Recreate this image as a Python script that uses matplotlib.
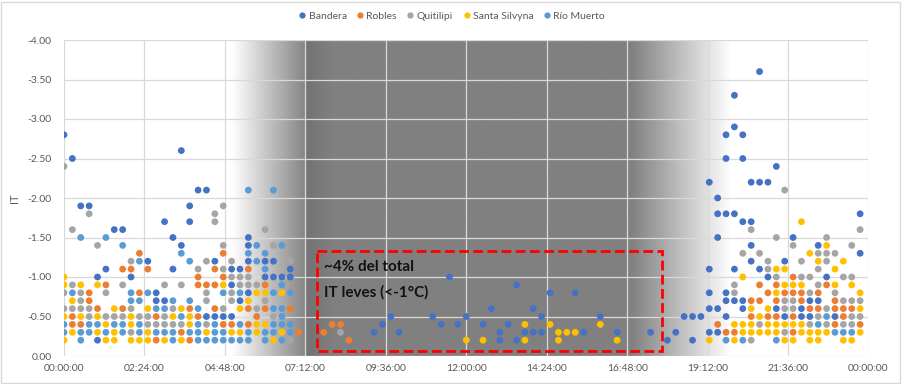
import numpy as np
import matplotlib
matplotlib.use("Agg")
import matplotlib.pyplot as plt
from matplotlib.lines import Line2D
from matplotlib.patches import Rectangle

plt.rcParams['font.family'] = ['Lato', 'DejaVu Sans']

# ---------------- data ----------------
series_names = ["Bandera", "Robles", "Quitilipi", "Santa Silvyna", "Río Muerto"]
series_colors = ["#4472C4", "#ED7D31", "#A5A5A5", "#FFC000", "#5B9BD5"]

bandera_times = ["00:00","00:15","00:30","00:45","01:00","01:15","01:30","01:45","02:00","02:30","02:45","03:00","03:15","03:30","03:45","04:00","04:15","04:30","04:45","05:00","05:15","05:30","06:00","06:15","06:30","06:45",
                 "09:15","09:30","09:45","10:00","11:00","11:15","11:30","11:45","12:00","12:30","12:45","13:00","13:15","13:30","13:45","14:00","14:15","14:30","15:15","15:30","16:00","16:30","17:30","18:00","18:15",
                 "18:30","18:45","19:00","19:15","19:30","19:45","20:00","20:15","20:30","20:45","21:00","21:15","21:30","21:45","22:00","22:15","22:30","22:45","23:00","23:45"]
bandera_it = [[-2.8],[-2.5],[-1.9],[-1.9],[-1.0,-0.2],[-1.1],[-1.6],[-1.6],[-1.0],[-1.2],[-0.8,-0.7],[-1.7,-0.7],[-1.5,-1.1],[-2.6,-1.4],[-1.9,-1.7],[-2.1],[-2.1,-0.5],[-1.2,-0.5],[-0.5],[-1.1,-0.9,-0.5],[-1.1,-0.7],[-1.5,-1.4,-1.2,-0.8],[-1.2,-1.0],[-1.2,-1.0],[-1.0],[-1.1,-1.0],
              [-0.3],[-0.4],[-0.5],[-0.3],[-0.5],[-0.4],[-1.0],[-0.4],[-0.5],[-0.4],[-0.6],[-0.3,-0.2],[-0.4],[-0.9,-0.2],[-0.3],[-0.6,-0.3],[-0.5,-0.3],[-0.8],[-0.8],[-0.3],[-0.5],[-0.3],[-0.3],[-0.2],[-0.3],
              [-0.5],[-0.5,-0.2],[-0.5],[-2.2,-1.1,-0.8,-0.6,-0.3],[-2.0,-1.8,-1.5,-0.6,-0.3],[-2.8,-2.5,-1.8,-0.8,-0.7,-0.5],[-3.3,-2.9,-1.8,-1.1,-0.7],[-2.8,-2.5,-1.7,-0.7,-0.6],[-2.2,-1.7,-1.4,-1.2],[-3.6,-2.2,-1.1],[-2.2,-1.0],[-2.4,-0.6],[-1.2,-0.5],[-1.5],[-0.6,-0.5],[-0.7,-0.5],[-1.4,-0.7],[-1.0],[-0.5],[-1.8,-1.3]]

robles_times = ["00:15","00:30","00:45","01:00","01:15","01:45","02:00","02:15","02:30","02:45","03:30","03:45","04:00","04:15","04:30","04:45","05:00","05:30","05:45","06:00","06:45","07:00","07:45","08:00","08:15","08:30",
                "19:30","19:45","20:00","20:30","20:45","21:00","21:15","21:30","21:45","22:00","22:15","22:30","22:45","23:00","23:15","23:30","23:45"]
robles_it = [[-0.5,-0.4],[-0.4],[-0.8,-0.7],[-0.6],[-0.9],[-1.1,-0.6],[-1.1],[-1.3,-0.8],[-1.1],[-0.5,-0.2],[-0.3],[-0.6,-0.2],[-1.0,-0.9,-0.5],[-0.9],[-1.1,-0.9,-0.6],[-1.3,-1.0,-0.4],[-0.4],[-1.1,-0.6,-0.4],[-0.5],[-0.9,-0.6],[-0.6],[-0.3],[-0.3],[-0.4],[-0.4],[-0.2],
             [-0.4],[-0.3],[-0.3],[-0.7,-0.5],[-0.9,-0.7],[-0.8,-0.5],[-0.9,-0.7,-0.5],[-0.8],[-1.0,-0.8,-0.5,-0.3],[-0.8,-0.7],[-0.6],[-0.8,-0.6],[-0.9],[-0.7,-0.6,-0.4],[-0.6,-0.5],[-0.6],[-0.4]]

quitilipi_times = ["00:00","00:15","00:30","00:45","01:00","01:15","01:30","01:45","02:00","02:15","02:30","02:45","03:00","03:15","03:30","04:00","04:15","04:30","04:45","05:00","05:15","05:30","05:45","06:00","06:15","06:45","08:15",
                   "20:00","20:15","20:30","20:45","21:00","21:15","21:30","21:45","22:00","22:15","22:30","22:45","23:00","23:15","23:30","23:45"]
quitilipi_it = [[-2.4,-0.8,-0.6],[-1.6,-0.9,-0.6],[-0.8,-0.7,-0.6],[-1.8,-0.6,-0.5],[-1.4],[-0.8,-0.5],[-0.5],[-0.9,-0.5],[-1.2,-0.6,-0.3],[-0.5],[-0.5,-0.4],[-0.4],[-0.9,-0.5,-0.4],[-0.6,-0.4],[-0.9,-0.4],[-1.1],[-1.2,-0.8,-0.7,-0.4],[-1.8,-1.7],[-1.9,-1.4,-1.1,-0.6],[-1.2,-1.0,-0.8,-0.7],[-1.0,-0.9],[-1.0,-0.9],[-0.9,-0.6],[-1.6,-0.7],[-1.4,-0.5],[-1.2,-0.2],[-0.3],
                [-0.9,-0.8],[-1.3],[-1.6,-0.2],[-1.3,-0.4],[-1.2,-1.1],[-1.5,-1.0],[-2.1,-0.7,-0.6,-0.3],[-1.4,-0.7,-0.6],[-1.2,-1.0],[-1.0,-0.8,-0.4],[-1.3,-1.1,-0.9,-0.5],[-1.5,-1.3,-1.2,-0.6,-0.4],[-1.3,-0.8],[-1.0,-0.7,-0.4],[-1.4,-1.0,-0.7,-0.5,-0.4],[-1.6,-0.7,-0.5]]

santa_times = ["00:00","00:15","00:30","01:00","01:15","01:30","02:00","02:15","02:30","03:00","03:15","03:30","03:45","04:15","04:45","05:00","05:15","05:30","05:45","06:00","06:15","06:30",
               "12:00","12:30","13:45","14:30","14:45","15:00","15:15","16:00","16:30",
               "19:15","20:00","20:15","20:30","20:45","21:00","21:15","21:30","21:45","22:00","22:15","22:30","22:45","23:00","23:15","23:30","23:45"]
santa_it = [[-1.0,-0.9,-0.5,-0.2],[-0.7,-0.3],[-0.9,-0.5],[-0.9,-0.5,-0.3],[-0.4,-0.2],[-0.6,-0.3,-0.2],[-0.5,-0.4,-0.2],[-0.2],[-0.6,-0.3,-0.2],[-0.2],[-0.5],[-0.6,-0.2],[-0.5,-0.4],[-0.3],[-0.9],[-0.3],[-0.6,-0.3],[-0.7],[-0.8,-0.4,-0.3],[-0.8,-0.4],[-0.2],[-0.8,-0.3],
            [-0.2],[-0.2],[-0.4,-0.2],[-0.4],[-0.3,-0.2],[-0.3],[-0.3],[-0.4],[-0.2],
            [-0.2],[-0.4,-0.2],[-1.0,-0.4,-0.3],[-0.6,-0.4,-0.3],[-0.5,-0.3],[-0.6,-0.4,-0.3],[-1.1,-0.8,-0.4,-0.3],[-1.1,-0.9,-0.4,-0.2],[-0.9,-0.4,-0.2],[-1.7,-0.9,-0.4,-0.3],[-1.3,-0.3,-0.2],[-1.2,-0.3,-0.2],[-1.4,-0.3],[-1.1,-0.9],[-1.2,-0.2],[-0.9,-0.2],[-0.8,-0.6,-0.3]]

rio_times = ["00:00","00:15","00:30","00:45","01:00","01:15","01:30","01:45","02:00","02:15","02:30","02:45","03:00","03:15","03:30","03:45","04:00","04:15","04:30","04:45","05:00","05:15","05:30","05:45","06:00","06:15","06:30","06:45",
             "19:45","20:15","21:15","22:30","22:45","23:00","23:15","23:30"]
rio_it = [[-0.4,-0.3],[-0.8],[-1.5,-0.3,-0.2],[-0.4,-0.3],[-0.4],[-1.5,-0.3],[-0.4],[-1.4,-0.4,-0.3],[-0.8,-0.7],[-1.2,-0.7,-0.4,-0.3],[-0.8],[-0.6,-0.3],[-0.6,-0.3],[-0.7,-0.3,-0.2],[-1.3,-0.5],[-1.2,-0.7,-0.3],[-0.6,-0.4,-0.3,-0.2],[-0.2],[-0.4,-0.3,-0.2],[-0.8,-0.3,-0.2],[-0.2],[-0.8,-0.4,-0.2],[-2.1,-1.3,-0.3,-0.2],[-1.4,-1.2],[-1.3,-1.1,-0.3,-0.2],[-2.1,-0.8,-0.6,-0.4,-0.3],[-1.4,-0.9,-0.6,-0.5,-0.4,-0.2],[-0.8,-0.4,-0.3],
          [-0.2],[-0.2],[-0.2],[-0.4],[-0.5],[-0.3],[-0.3],[-0.3]]

y_ticks = [0.0, -0.5, -1.0, -1.5, -2.0, -2.5, -3.0, -3.5, -4.0]
x_tick_labels = ["00:00:00","02:24:00","04:48:00","07:12:00","09:36:00","12:00:00",
                 "14:24:00","16:48:00","19:12:00","21:36:00","00:00:00"]

# daylight shading profile (hour, gray level)
shade_hours = [0.0, 5.0, 7.2, 7.25, 8.0, 16.9, 19.9, 24.0]
shade_level = [1.0, 1.0, 0.52, 0.45, 0.5, 0.5, 1.0, 1.0]

note_lines = ["~4% del total", "IT leves (<-1°C)"]
box_x = (7.55, 17.85)
box_y = (-1.33, -0.06)


def to_hours(s):
    h, m = s.split(":")
    return int(h) + int(m) / 60.0


def flatten(times, vals):
    xs, ys = [], []
    for t, vv in zip(times, vals):
        for v in vv:
            xs.append(to_hours(t))
            ys.append(v)
    return xs, ys


all_series = [(bandera_times, bandera_it), (robles_times, robles_it),
              (quitilipi_times, quitilipi_it), (santa_times, santa_it),
              (rio_times, rio_it)]

# ---------------- figure ----------------
fig = plt.figure(figsize=(9.04, 3.84), dpi=100)
ax = fig.add_axes([64/904, 28/384, (868.5-64)/904, (356-40)/384])

xs_bg = np.linspace(0, 24, 1201)
g = np.interp(xs_bg, shade_hours, shade_level)
ax.imshow(g[np.newaxis, :], cmap='gray', vmin=0, vmax=1, aspect='auto',
          extent=(0, 24, 0, -4), zorder=0, interpolation='bilinear')

for (times, vals), name, col in zip(all_series, series_names, series_colors):
    x, y = flatten(times, vals)
    ax.scatter(x, y, s=24, color=col, edgecolors='none', zorder=3, label=name)

ax.set_xlim(0, 24)
ax.set_ylim(0, -4)
ax.set_xticks(np.linspace(0, 24, 11))
ax.set_xticklabels(x_tick_labels)
ax.set_yticks(y_ticks)
ax.set_yticklabels([f"{v:.2f}" for v in y_ticks])
ax.set_axisbelow(True)
ax.grid(True, color='#d9d9d9', linewidth=0.9, zorder=0.5)
for sp in ax.spines.values():
    sp.set_visible(False)
ax.tick_params(axis='both', length=0, labelsize=7.5, labelcolor='#595959')
ax.tick_params(axis='y', pad=9)
ax.tick_params(axis='x', pad=6)
ax.set_ylabel("IT", fontsize=8, color='#595959')
ax.yaxis.set_label_coords((20 - 64) / 804.5, 0.5)

# annotation box
rect = Rectangle((box_x[0], box_y[0]), box_x[1]-box_x[0], box_y[1]-box_y[0],
                 fill=False, edgecolor='#FF0000', linewidth=2.0,
                 linestyle=(0, (3.5, 1.6)), zorder=5)
ax.add_patch(rect)
ax.text(box_x[0] + 0.2, -1.13, note_lines[0], fontsize=11, fontweight='bold',
        color='#111111', va='center', ha='left', zorder=6)
ax.text(box_x[0] + 0.2, -0.81, note_lines[1], fontsize=11, fontweight='bold',
        color='#111111', va='center', ha='left', zorder=6)

handles = [Line2D([], [], marker='o', linestyle='none', markersize=4.5,
                  markerfacecolor=c, markeredgecolor='none') for c in series_colors]
fig.legend(handles, series_names, loc='upper center', bbox_to_anchor=(0.5, 0.995),
           ncol=5, frameon=False, fontsize=7.5, handlelength=0.6, handletextpad=0.3,
           columnspacing=1.0, labelcolor='#595959')

fig.add_artist(Rectangle((0.5/904, 1.5/384), 900/904, 381/384, transform=fig.transFigure,
                         fill=False, edgecolor='#d9d9d9', linewidth=1.0))

fig.savefig("out.png", dpi=100)
